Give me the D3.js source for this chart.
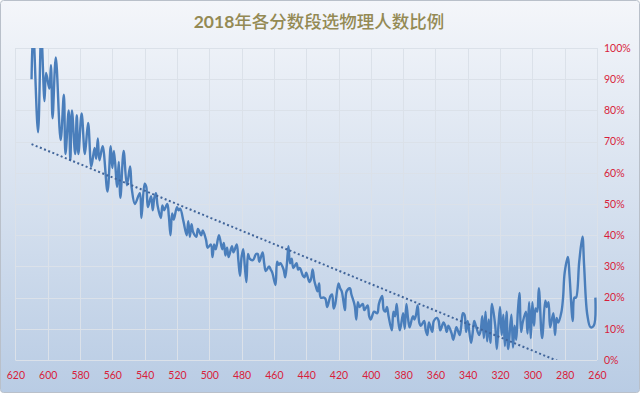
<!DOCTYPE html>
<html><head><meta charset="utf-8">
<script src="https://cdn.jsdelivr.net/npm/d3@7"></script>
<style>html,body{margin:0;padding:0;background:#fff;}svg{display:block;}</style>
</head><body><svg id="c" width="640" height="393"></svg>
<script>
const titleText = "2018年各分数段选物理人数比例";
const xTicks = [620,600,580,560,540,520,500,480,460,440,420,400,380,360,340,320,300,280,260];
const yTicks = [0,10,20,30,40,50,60,70,80,90,100];
const scores = [610,609,606,604,602,601,599,598,597,595,592,590,589,587,586,585,583,582,581,579,577,575,573,571,570,569,568,566,563,561,560,559,557,556,555,553,551,549,548,546,543,542,540,539,538,536,535,534,533,532,530,529,528,526,525,524,523,522,520,519,518,516,514,513,512,511,510,508,507,505,504,502,501,499,498,497,496,494,492,491,490,489,488,486,485,483,482,481,480,479,478,477,476,475,473,471,470,469,467,466,465,463,462,461,459,458,457,456,454,453,452,451,450,449,448,446,445,444,442,441,440,438,437,436,435,434,433,432,431,429,428,427,425,424,423,422,420,419,418,417,416,415,413,412,410,409,408,407,405,404,402,401,400,398,396,395,393,392,391,390,389,387,386,385,384,383,382,380,379,378,377,376,374,373,372,371,370,369,367,366,365,364,362,361,359,358,357,355,354,353,352,350,349,348,347,345,344,343,342,341,340,338,337,336,335,333,332,331,330,329,328,327,326,325,323,322,321,320,319,318,317,316,315,313,312,311,310,309,308,307,306,304,303,302,301,300,299,298,297,296,294,292,291,290,289,287,286,285,284,282,281,280,278,277,275,274,273,271,269,268,266,264,262,261];
const ratios = [90,106,73,105,83,92,87,94.5,77.5,97,70.5,85,66,80,64,80,66,78.5,66,79,66,76,62,68,64.5,71,64,68.5,54,68.5,61.5,67,55.5,63.5,52,67,56,62,55,50,53.5,45.5,56.5,55.5,49,52.5,48,52,53.5,49.5,45.5,49.5,48,50,46,40,47,45,49,48,48.5,44.5,40,44.5,39.5,43.5,41,39.5,42,40,41.5,38.5,36,37,33,37,35.5,40,35.5,37.5,33.5,36,33,36.5,34.5,37,32,27,33,35.5,30,25,34,32.5,32,34,34,31.5,34.5,31,28.5,30,29,28,24,31.5,30.5,31,29,26.5,30.5,36.5,31,32.5,29.5,31,29,29.5,27,26.5,28,25,26,29,25.5,23.5,22,24.5,20,20,19.5,17,20.5,21,16.5,18,24.5,23,22,19,16,22,23,21,17.5,13,18.5,17,18,16,17.5,14,13,15.5,15,18,20.5,16,15.5,17,14,9.5,15.5,14,18,12.5,9.5,15,10,18,13.5,10.5,14,13,14.5,17.5,12,11,12.5,9.5,8,12,9,12.5,13.5,12.5,9.5,12,11,9,11,8.5,6.5,8.5,10.5,8,11,15,14.5,9,12.5,5.5,8.5,12.5,11,8,9.5,14,7,15.5,6,13,5.5,18,11,3.5,11,17,8,14.5,4.5,15.5,3.5,14.5,4,11,6.5,15.5,21.5,9,12,15.5,8.5,18.5,7,18.5,11,16.5,15.5,23,7,19,17,18.5,10.5,15,8,13.5,12,15.5,20,28,33,27,12.5,20,20,31.5,39.5,30.5,14.5,10.5,11,20];
const trendScores = [610, 261];
const trendValues = [69.2, -5.3];

const svg = d3.select("#c");
const W = 640, H = 393;
const defs = svg.append("defs");
const grad = defs.append("linearGradient").attr("id","bg").attr("x1",0).attr("y1",0).attr("x2",0).attr("y2",1);
grad.append("stop").attr("offset","0%").attr("stop-color","#f4f6fa");
grad.append("stop").attr("offset","100%").attr("stop-color","#b9cce4");
svg.append("rect").attr("x",0.5).attr("y",0.5).attr("width",W-1).attr("height",H-1)
  .attr("rx",3).attr("fill","url(#bg)").attr("stroke","#b9c0ca").attr("stroke-width",1);

const x = d3.scaleLinear().domain([620,260]).range([15.4,597]);
const y = d3.scaleLinear().domain([0,100]).range([360,48]);

defs.append("clipPath").attr("id","plot").append("rect")
  .attr("x",x(620)).attr("y",y(100)).attr("width",x(260)-x(620)).attr("height",y(0)-y(100));

const grid = svg.append("g").attr("stroke","#dbe1e9").attr("stroke-width",1);
grid.selectAll("line.v").data(xTicks).join("line").attr("class","v")
  .attr("x1",d=>Math.round(x(d))+0.5).attr("x2",d=>Math.round(x(d))+0.5)
  .attr("y1",y(100)).attr("y2",y(0));
grid.selectAll("line.h").data(yTicks).join("line").attr("class","h")
  .attr("y1",d=>Math.round(y(d))+0.5).attr("y2",d=>Math.round(y(d))+0.5)
  .attr("x1",x(620)).attr("x2",x(260));

const xAxis = d3.axisBottom(x).tickValues(xTicks).tickSize(0).tickPadding(0).tickFormat(d3.format("d"));
const gx = svg.append("g").attr("transform",`translate(0,${y(0)+14})`).call(xAxis);
gx.select(".domain").remove();
gx.selectAll("text").attr("fill","#d81e3c").attr("font-family","Lato, 'Open Sans', sans-serif").attr("font-size","10.5px").attr("dy","0.5em");

const yAxis = d3.axisRight(y).tickValues(yTicks).tickSize(0).tickPadding(0).tickFormat(d=>d+"%");
const gy = svg.append("g").attr("transform",`translate(${x(260)+7},0)`).call(yAxis);
gy.select(".domain").remove();
gy.selectAll("text").attr("fill","#d81e3c").attr("font-family","Lato, 'Open Sans', sans-serif").attr("font-size","10.5px");

const data = scores.map((s,i)=>({s, v: ratios[i]}));
const plot = svg.append("g").attr("clip-path","url(#plot)");
plot.append("path").datum(data)
  .attr("fill","none").attr("stroke","#4a7ebb").attr("stroke-width",2.4).attr("stroke-linejoin","round")
  .attr("d", d3.line().x(d=>x(d.s)).y(d=>y(d.v)).curve(d3.curveCatmullRom.alpha(0.5)));

const trend = trendScores.map((s,i)=>({s, v: trendValues[i]}));
plot.append("path").datum(trend)
  .attr("fill","none").attr("stroke","#41659a").attr("stroke-width",2).attr("stroke-dasharray","2,2.5")
  .attr("d", d3.line().x(d=>x(d.s)).y(d=>y(d.v)));

const t = svg.append("text").attr("x",319).attr("y",28).attr("text-anchor","middle")
  .attr("fill","#948a54").attr("font-size","17.5px").attr("font-family","'Noto Sans CJK SC', 'Noto Sans', sans-serif");
t.append("tspan").attr("font-weight","bold").attr("font-family","Lato, 'Noto Sans', sans-serif").text(titleText.slice(0,4));
t.append("tspan").attr("font-weight","500").text(titleText.slice(4));
</script></body></html>
